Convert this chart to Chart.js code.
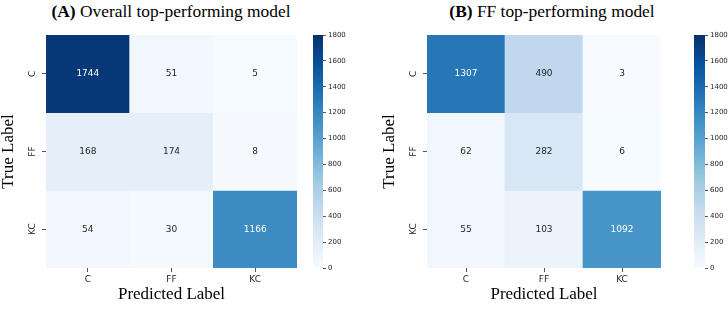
<!DOCTYPE html>
<html>
<head>
<meta charset="utf-8">
<script src="https://cdn.jsdelivr.net/npm/chart.js@4.4.1/dist/chart.umd.min.js"></script>
<style>
  html, body { margin: 0; padding: 0; background: #fff; }
  #wrap { position: relative; width: 728px; height: 315px; overflow: hidden; }
  .box { position: absolute; top: 0; height: 315px; }
  .title {
    position: absolute; top: 0; height: 22px; line-height: 22px;
    font-family: "Liberation Serif", "Times New Roman", serif; font-size: 17.4px;
    color: #000; text-align: center; white-space: nowrap;
  }
</style>
</head>
<body>
<div id="wrap">
  <div class="title" style="left:21px;width:300px"><b>(A)</b> Overall top-performing model</div>
  <div class="title" style="left:402px;width:300px"><b>(B)</b> FF top-performing model</div>
  <div class="box" style="left:0;width:364px"><canvas id="heatA"></canvas></div>
  <div class="box" style="left:300px;width:64px"><canvas id="barA"></canvas></div>
  <div class="box" style="left:364px;width:364px"><canvas id="heatB"></canvas></div>
  <div class="box" style="left:680px;width:48px"><canvas id="barB"></canvas></div>
</div>
<script>
// class names (predicted on x, true on y)
const classes = ["C", "FF", "KC"];

// (A) overall top-performing model, one array per true label
const overallC = [1744, 51, 5];
const overallFF = [168, 174, 8];
const overallKC = [54, 30, 1166];

// (B) FF top-performing model
const ffC = [1307, 490, 3];
const ffFF = [62, 282, 6];
const ffKC = [55, 103, 1092];

// colour scale
const colorMin = 0;
const colorMax = 1800;
const colorbarTicks = [0, 200, 400, 600, 800, 1000, 1200, 1400, 1600, 1800];

// matplotlib "Blues" stops
const bluesStops = [
  [247, 251, 255], [222, 235, 247], [198, 219, 239], [158, 202, 225],
  [107, 174, 214], [66, 146, 198], [33, 113, 181], [8, 81, 156], [8, 48, 107]
];

function blues(t) {
  t = Math.max(0, Math.min(1, t));
  const pos = t * (bluesStops.length - 1);
  const i = Math.min(Math.floor(pos), bluesStops.length - 2);
  const f = pos - i;
  const a = bluesStops[i], b = bluesStops[i + 1];
  return a.map((c, k) => Math.round(c + (b[k] - c) * f));
}

function rgb(c) { return "rgb(" + c.join(",") + ")"; }

function luminance(c) {
  const lin = c.map(v => {
    v /= 255;
    return v <= 0.03928 ? v / 12.92 : Math.pow((v + 0.055) / 1.055, 2.4);
  });
  return 0.2126 * lin[0] + 0.7152 * lin[1] + 0.0722 * lin[2];
}

const sans = "'DejaVu Sans', sans-serif";
const serif = "'Liberation Serif', 'Times New Roman', serif";
const inkColor = "#262626";

// writes the count in the middle of every cell
const cellText = {
  id: "cellText",
  afterDatasetsDraw(chart) {
    const ctx = chart.ctx;
    ctx.save();
    ctx.font = "9px " + sans;
    ctx.textAlign = "center";
    ctx.textBaseline = "middle";
    chart.data.datasets.forEach((ds, di) => {
      chart.getDatasetMeta(di).data.forEach((bar, i) => {
        const v = ds.counts[i];
        const c = blues((v - colorMin) / (colorMax - colorMin));
        ctx.fillStyle = luminance(c) > 0.408 ? inkColor : "#ffffff";
        ctx.fillText(String(v), bar.x, (bar.y + bar.base) / 2);
      });
    });
    ctx.restore();
  }
};

function heatmap(id, rows, padLeft) {
  const datasets = rows.map((row, r) => ({
    label: classes[r],
    counts: row,
    data: row.map(() => [r, r + 1]),
    backgroundColor: row.map(v => rgb(blues((v - colorMin) / (colorMax - colorMin)))),
    borderWidth: 0,
    borderSkipped: false,
    barPercentage: 1,
    categoryPercentage: 1,
    grouped: false
  }));

  return new Chart(document.getElementById(id), {
    type: "bar",
    data: { labels: classes, datasets: datasets },
    options: {
      responsive: true,
      maintainAspectRatio: false,
      animation: false,
      layout: { padding: { top: 35, right: 67, bottom: 0, left: padLeft } },
      plugins: { legend: { display: false }, tooltip: { enabled: false } },
      scales: {
        x: {
          grid: { display: true, offset: false, drawOnChartArea: false, drawTicks: true, tickLength: 4, color: "#555" },
          border: { display: false },
          ticks: { color: inkColor, font: { family: sans, size: 9 }, padding: 2, maxRotation: 0 },
          title: {
            display: true, text: "Predicted Label", color: "#000",
            font: { family: serif, size: 17, lineHeight: 1 }, padding: { top: 0, bottom: 12 }
          },
          afterFit(scale) { scale.height = 47; }
        },
        y: {
          type: "linear",
          min: 0,
          max: 3,
          reverse: true,
          grid: { display: true, drawOnChartArea: false, drawTicks: true, tickLength: 4, color: "#555" },
          border: { display: false },
          afterBuildTicks(scale) {
            scale.ticks = classes.map((c, i) => ({ value: i + 0.5 }));
          },
          ticks: {
            color: inkColor,
            font: { family: sans, size: 9 },
            padding: 3,
            minRotation: 90,
            maxRotation: 90,
            crossAlign: "center",
            callback: (v) => classes[Math.floor(v)]
          },
          title: {
            display: true, text: "True Label", color: "#000",
            font: { family: serif, size: 17, lineHeight: 1 }, padding: { top: 0, bottom: 0 }
          },
          afterFit(scale) { scale.width = 46; }
        }
      }
    },
    plugins: [cellText]
  });
}

function colorbar(id, padLeft, axisWidth) {
  return new Chart(document.getElementById(id), {
    type: "bar",
    data: {
      labels: [""],
      datasets: [{
        data: [[colorMin, colorMax]],
        backgroundColor(ctx) {
          const area = ctx.chart.chartArea;
          if (!area) return rgb(bluesStops[4]);
          const g = ctx.chart.ctx.createLinearGradient(0, area.bottom, 0, area.top);
          bluesStops.forEach((c, i) => g.addColorStop(i / (bluesStops.length - 1), rgb(c)));
          return g;
        },
        borderWidth: 0,
        borderSkipped: false,
        barPercentage: 1,
        categoryPercentage: 1
      }]
    },
    options: {
      responsive: true,
      maintainAspectRatio: false,
      animation: false,
      layout: { padding: { top: 35, right: 0, bottom: 47, left: padLeft } },
      plugins: { legend: { display: false }, tooltip: { enabled: false } },
      scales: {
        x: { display: false },
        y: {
          position: "right",
          min: colorMin,
          max: colorMax,
          grid: { display: true, drawOnChartArea: false, drawTicks: true, tickLength: 3, color: "#555" },
          border: { display: false },
          afterBuildTicks(scale) {
            scale.ticks = colorbarTicks.map(v => ({ value: v }));
          },
          ticks: { color: inkColor, font: { family: sans, size: 7 }, padding: 2, callback: (v) => String(v) },
          afterFit(scale) { scale.width = axisWidth; }
        }
      }
    }
  });
}

heatmap("heatA", [overallC, overallFF, overallKC], 0);
colorbar("barA", 13, 41);
heatmap("heatB", [ffC, ffFF, ffKC], 17);
colorbar("barB", 14, 23);
</script>
</body>
</html>
